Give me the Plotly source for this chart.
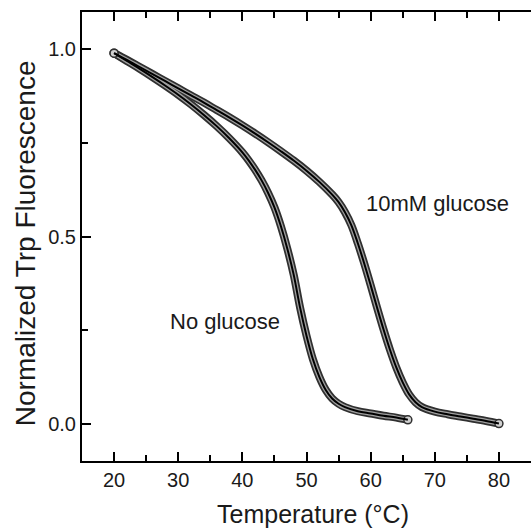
import plotly.graph_objects as go

# No glucose
temp_no = [20, 22, 24, 26, 28, 30, 32, 34, 36, 38, 40, 41, 42, 43, 44, 45, 46, 47, 48, 49,
           50, 51, 52, 53, 54, 55, 56, 58, 60, 62, 64, 65.8]
fluo_no = [0.99, 0.969, 0.948, 0.926, 0.903, 0.879, 0.853, 0.825, 0.795, 0.762, 0.725, 0.703,
           0.678, 0.65, 0.617, 0.578, 0.528, 0.468, 0.398, 0.31, 0.235, 0.172, 0.125, 0.09,
           0.067, 0.053, 0.044, 0.033, 0.027, 0.021, 0.016, 0.01]

# 10 mM glucose
temp_glc = [20, 22, 24, 26, 28, 30, 32, 34, 36, 38, 40, 42, 44, 46, 48, 50, 52, 54, 55, 56,
            57, 58, 59, 60, 61, 62, 63, 64, 65, 66, 67, 68, 70, 72, 74, 76, 78, 80]
fluo_glc = [0.99, 0.972, 0.953, 0.934, 0.915, 0.896, 0.877, 0.858, 0.838, 0.818, 0.797, 0.775,
            0.752, 0.728, 0.703, 0.676, 0.646, 0.612, 0.592, 0.565, 0.53, 0.482, 0.428, 0.37,
            0.31, 0.252, 0.198, 0.15, 0.11, 0.078, 0.057, 0.044, 0.032, 0.025, 0.019, 0.013,
            0.007, 0.0]

x_ticks = [20, 30, 40, 50, 60, 70, 80]
y_ticks = [0.0, 0.5, 1.0]
y_ticklabels = ["0.0", "0.5", "1.0"]

labels = {"no": "No glucose", "glc": "10mM glucose"}

FONT = "Liberation Sans, Arial, sans-serif"
TXT = "#1a1a1a"

series = [(temp_no, fluo_no), (temp_glc, fluo_glc)]

fig = go.Figure()
# data band (dense open-circle look): dark outer band, grey inner band
for xs, ys in series:
    fig.add_trace(go.Scatter(x=xs, y=ys, mode="lines",
                             line=dict(color="#303030", width=8, shape="spline"),
                             showlegend=False, hoverinfo="skip"))
for xs, ys in series:
    fig.add_trace(go.Scatter(x=xs, y=ys, mode="lines",
                             line=dict(color="#a0a0a0", width=4.5, shape="spline"),
                             showlegend=False, hoverinfo="skip"))
# end-point circles
for xs, ys in series:
    fig.add_trace(go.Scatter(x=[xs[0], xs[-1]], y=[ys[0], ys[-1]], mode="markers",
                             marker=dict(symbol="circle", size=8, color="#d0d0d0",
                                         line=dict(color="#303030", width=1.5)),
                             showlegend=False, hoverinfo="skip"))
# fitted curve
for xs, ys in series:
    fig.add_trace(go.Scatter(x=xs, y=ys, mode="lines",
                             line=dict(color="#000000", width=2, shape="spline"),
                             showlegend=False, hoverinfo="skip"))

axis_common = dict(
    showline=True, linecolor="black", linewidth=2,
    ticks="inside", ticklen=9, tickwidth=2, tickcolor="black",
    showgrid=False, zeroline=False,
    tickfont=dict(family=FONT, size=20, color=TXT),
)

fig.update_xaxes(
    range=[15, 85], tickvals=x_ticks, mirror="ticks",
    minor=dict(dtick=5, tick0=15, ticks="inside", ticklen=6, tickwidth=2, tickcolor="black"),
    ticklabelstandoff=0,
    **axis_common)
fig.update_yaxes(
    range=[-0.1, 1.1], tickvals=y_ticks, ticktext=y_ticklabels, mirror=False,
    minor=dict(dtick=0.25, tick0=0, ticks="inside", ticklen=6, tickwidth=2, tickcolor="black"),
    ticklabelstandoff=0,
    **axis_common)

fig.add_annotation(x=59.0, y=0.588, text=labels["glc"], showarrow=False,
                   xanchor="left", yanchor="middle",
                   font=dict(family=FONT, size=22, color=TXT))
fig.add_annotation(x=28.4, y=0.272, text=labels["no"], showarrow=False,
                   xanchor="left", yanchor="middle",
                   font=dict(family=FONT, size=22, color=TXT))

# axis titles
fig.add_annotation(xref="paper", yref="paper", x=0.514, y=-0.118,
                   xanchor="center", yanchor="middle",
                   text="Temperature (°C)", showarrow=False,
                   font=dict(family=FONT, size=25, color=TXT))
fig.add_annotation(xref="paper", yref="paper", x=-0.127, y=0.485,
                   xanchor="center", yanchor="middle", textangle=-90,
                   text="Normalized Trp Fluorescence", showarrow=False,
                   font=dict(family=FONT, size=28, color=TXT))

fig.update_layout(
    width=531, height=530,
    margin=dict(l=82, r=0, t=12, b=69),
    paper_bgcolor="white", plot_bgcolor="white",
)

fig.write_html("out.html")
